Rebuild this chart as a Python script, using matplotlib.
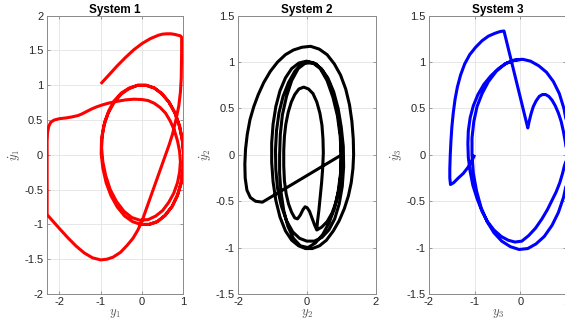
"""
Phase portraits of three systems (y vs. y-dot), MATLAB-style panels.
"""

import matplotlib
matplotlib.use("Agg")
import matplotlib.pyplot as plt

plt.rcParams['font.family'] = ['Liberation Sans', 'DejaVu Sans']
plt.rcParams['mathtext.fontset'] = 'cm'
plt.rcParams['axes.unicode_minus'] = False

# ── Data ───────────────────────────────────────────────────
# System 1 trajectory: (y1, dy1) pairs
sys1 = [
    (-1.0, 1.02), (-0.9, 1.085), (-0.8, 1.15), (-0.7, 1.215), (-0.6, 1.28),
    (-0.5, 1.34), (-0.4, 1.4), (-0.3, 1.455), (-0.2, 1.51), (-0.1, 1.555),
    (0.0, 1.6), (0.1, 1.635), (0.2, 1.67), (0.3, 1.695), (0.4, 1.72),
    (0.5, 1.735), (0.6, 1.74), (0.7, 1.74), (0.8, 1.73), (0.87, 1.72),
    (0.93, 1.71), (0.96, 1.69),
    (0.96, 1.5), (0.955, 1.3), (0.95, 1.1), (0.93, 0.9), (0.89, 0.7),
    (0.82, 0.5), (0.74, 0.3), (0.66, 0.15), (0.57, 0.0), (0.45, -0.2),
    (0.33, -0.4), (0.21, -0.6), (0.1, -0.78), (0.0, -0.95), (-0.1, -1.08),
    (-0.22, -1.2), (-0.36, -1.3), (-0.52, -1.4), (-0.7, -1.47), (-0.85, -1.5),
    (-1.0, -1.51), (-1.2, -1.48), (-1.4, -1.41), (-1.6, -1.31), (-1.8, -1.19),
    (-2.0, -1.06), (-2.15, -0.96), (-2.3, -0.86),
    (-2.3, -0.5), (-2.3, -0.1), (-2.3, 0.2), (-2.29, 0.32), (-2.26, 0.41),
    (-2.21, 0.47), (-2.13, 0.5), (-2.0, 0.52), (-1.85, 0.53), (-1.7, 0.545),
    (-1.55, 0.565), (-1.45, 0.59), (-1.35, 0.62), (-1.22, 0.66), (-1.1, 0.69),
    (-0.95, 0.72), (-0.8, 0.745), (-0.6, 0.77), (-0.4, 0.79), (-0.2, 0.8),
    (0.0, 0.795), (0.15, 0.78), (0.3, 0.74), (0.44, 0.68), (0.57, 0.6),
    (0.68, 0.49), (0.78, 0.36), (0.86, 0.2), (0.91, 0.05), (0.93, -0.1),
    (0.91, -0.25), (0.86, -0.4), (0.77, -0.55), (0.65, -0.68), (0.5, -0.8),
    (0.33, -0.88), (0.15, -0.93), (-0.05, -0.94), (-0.25, -0.9),
    (-0.44, -0.81), (-0.62, -0.67), (-0.77, -0.5), (-0.88, -0.3),
    (-0.95, -0.1), (-0.98, 0.1), (-0.96, 0.3), (-0.9, 0.48), (-0.8, 0.64),
    (-0.67, 0.78), (-0.5, 0.89), (-0.31, 0.96), (-0.1, 1.0), (0.1, 1.0),
    (0.3, 0.96), (0.48, 0.88), (0.65, 0.76), (0.8, 0.6), (0.91, 0.41),
    (0.98, 0.2), (1.01, 0.0), (1.0, -0.2), (0.95, -0.4), (0.86, -0.58),
    (0.73, -0.74), (0.56, -0.87), (0.37, -0.96), (0.17, -1.0), (-0.03, -1.0),
    (-0.23, -0.96), (-0.42, -0.88), (-0.6, -0.75), (-0.75, -0.59),
    (-0.87, -0.4), (-0.95, -0.19), (-0.99, 0.02), (-0.98, 0.23),
    (-0.92, 0.43), (-0.82, 0.6), (-0.68, 0.75), (-0.51, 0.87), (-0.32, 0.95),
    (-0.11, 1.0), (0.1, 1.0), (0.3, 0.96), (0.48, 0.88), (0.65, 0.76),
    (0.8, 0.6), (0.91, 0.41), (0.98, 0.2), (1.01, 0.0), (1.0, -0.2),
    (0.95, -0.4), (0.86, -0.58), (0.73, -0.74), (0.56, -0.87), (0.37, -0.96),
    (0.17, -1.0), (-0.03, -1.0),
]

# System 2 trajectory: (y2, dy2) pairs
sys2 = [
    (1.0, 0.0), (-1.3, -0.51),
    (-1.5, -0.5), (-1.65, -0.46), (-1.75, -0.38), (-1.8, -0.25),
    (-1.81, -0.1), (-1.79, 0.06), (-1.74, 0.22), (-1.66, 0.38), (-1.55, 0.52),
    (-1.42, 0.65), (-1.26, 0.78), (-1.07, 0.9), (-0.86, 1.0), (-0.63, 1.08),
    (-0.4, 1.13), (-0.15, 1.16), (0.1, 1.17), (0.35, 1.14), (0.58, 1.08),
    (0.79, 0.98), (0.97, 0.86), (1.12, 0.71), (1.23, 0.54), (1.3, 0.36),
    (1.34, 0.17), (1.35, 0.0), (1.33, -0.15), (1.28, -0.3), (1.2, -0.44),
    (1.08, -0.58), (0.93, -0.71), (0.76, -0.82), (0.56, -0.92), (0.36, -0.98),
    (0.15, -1.01), (-0.05, -1.01), (-0.25, -0.98),
    (-0.45, -0.92), (-0.63, -0.82), (-0.79, -0.67), (-0.91, -0.49),
    (-0.99, -0.29), (-1.03, -0.08), (-1.03, 0.13), (-0.99, 0.33),
    (-0.91, 0.52), (-0.79, 0.69), (-0.63, 0.83), (-0.45, 0.93), (-0.24, 0.99),
    (-0.02, 1.01), (0.2, 0.99), (0.41, 0.93), (0.6, 0.83), (0.77, 0.68),
    (0.9, 0.5), (0.99, 0.3), (1.05, 0.09), (1.06, -0.13), (1.02, -0.34),
    (0.93, -0.53), (0.8, -0.69), (0.63, -0.81), (0.43, -0.89), (0.21, -0.93),
    (-0.01, -0.93), (-0.22, -0.9),
    (-0.42, -0.83), (-0.6, -0.71), (-0.75, -0.55), (-0.86, -0.36),
    (-0.91, -0.16), (-0.92, 0.05), (-0.89, 0.26), (-0.82, 0.45), (-0.7, 0.63),
    (-0.54, 0.78), (-0.36, 0.9), (-0.16, 0.98), (0.05, 1.0), (0.26, 0.98),
    (0.46, 0.9), (0.64, 0.78), (0.79, 0.62), (0.9, 0.43), (0.97, 0.22),
    (0.99, 0.0), (0.97, -0.2), (0.9, -0.4), (0.79, -0.58), (0.64, -0.73),
    (0.45, -0.86), (0.24, -0.95), (0.02, -1.0), (-0.2, -0.98), (-0.4, -0.9),
    (-0.56, -0.77), (-0.68, -0.6), (-0.76, -0.4), (-0.8, -0.2), (-0.8, 0.0),
    (-0.78, 0.22), (-0.72, 0.43), (-0.6, 0.63), (-0.45, 0.8), (-0.26, 0.93),
    (-0.05, 0.99), (0.17, 0.99), (0.38, 0.93), (0.58, 0.8), (0.75, 0.62),
    (0.88, 0.42), (0.96, 0.2), (0.99, -0.02), (0.98, -0.2), (0.93, -0.36),
    (0.84, -0.51), (0.72, -0.63), (0.58, -0.72), (0.42, -0.78), (0.28, -0.81),
    (0.22, -0.76), (0.15, -0.69), (0.07, -0.61), (0.0, -0.57), (-0.06, -0.56),
    (-0.12, -0.59), (-0.2, -0.65), (-0.28, -0.69), (-0.36, -0.68),
    (-0.45, -0.62), (-0.54, -0.53), (-0.61, -0.42), (-0.66, -0.28),
    (-0.68, -0.12), (-0.68, 0.05), (-0.66, 0.2), (-0.62, 0.33), (-0.55, 0.46),
    (-0.46, 0.57), (-0.36, 0.65), (-0.24, 0.71), (-0.1, 0.73), (0.04, 0.71),
    (0.17, 0.66), (0.28, 0.57), (0.37, 0.45), (0.43, 0.32), (0.46, 0.17),
    (0.47, 0.02), (0.45, -0.15), (0.42, -0.3), (0.38, -0.45), (0.34, -0.6),
    (0.3, -0.72), (0.28, -0.81),
]

# System 3 trajectory: (y3, dy3) pairs
sys3 = [
    (-1.0, 0.0), (-1.06, -0.06), (-1.14, -0.13), (-1.25, -0.2), (-1.36, -0.25),
    (-1.46, -0.3), (-1.53, -0.32), (-1.545, -0.25), (-1.545, -0.15),
    (-1.535, 0.0), (-1.52, 0.15), (-1.5, 0.3), (-1.47, 0.45), (-1.43, 0.6),
    (-1.38, 0.73), (-1.31, 0.86), (-1.22, 0.98), (-1.11, 1.08), (-0.98, 1.16),
    (-0.84, 1.23), (-0.7, 1.28), (-0.56, 1.31), (-0.44, 1.33), (-0.36, 1.335),
    (0.16, 0.29), (0.19, 0.36), (0.23, 0.44), (0.28, 0.52), (0.34, 0.58),
    (0.41, 0.63), (0.48, 0.65), (0.55, 0.65), (0.62, 0.63), (0.69, 0.59),
    (0.76, 0.53), (0.83, 0.45), (0.89, 0.36), (0.94, 0.25), (0.98, 0.14),
    (1.01, 0.03), (1.0, -0.06), (0.96, -0.12),
    (0.92, -0.2), (0.86, -0.3), (0.78, -0.4), (0.69, -0.49), (0.59, -0.59),
    (0.47, -0.69), (0.33, -0.79), (0.18, -0.87), (0.03, -0.93), (-0.12, -0.94),
    (-0.27, -0.92), (-0.42, -0.88), (-0.58, -0.81), (-0.72, -0.72),
    (-0.84, -0.61), (-0.95, -0.47), (-1.04, -0.33), (-1.1, -0.18),
    (-1.14, -0.03), (-1.15, 0.12), (-1.14, 0.26), (-1.1, 0.4), (-1.03, 0.53),
    (-0.93, 0.65), (-0.8, 0.76), (-0.65, 0.85), (-0.48, 0.93), (-0.3, 0.99),
    (-0.12, 1.02), (0.05, 1.03), (0.22, 1.01), (0.4, 0.96), (0.57, 0.89),
    (0.72, 0.79), (0.85, 0.66), (0.95, 0.5), (1.02, 0.32), (1.06, 0.12),
    (1.06, -0.08), (1.02, -0.28), (0.94, -0.46), (0.83, -0.62), (0.69, -0.76),
    (0.52, -0.88), (0.34, -0.96), (0.16, -1.01), (-0.03, -1.02),
    (-0.22, -0.99), (-0.41, -0.93), (-0.58, -0.84), (-0.73, -0.72),
    (-0.86, -0.57), (-0.96, -0.39), (-1.03, -0.2), (-1.06, 0.0),
    (-1.06, 0.18), (-1.02, 0.36), (-0.95, 0.52), (-0.84, 0.66), (-0.7, 0.79),
    (-0.53, 0.9), (-0.34, 0.98), (-0.15, 1.02), (0.03, 1.03),
]

titles = ["System 1", "System 2", "System 3"]
xlabels = [r"$y_1$", r"$y_2$", r"$y_3$"]
ylabels = [r"$\dot{y}_1$", r"$\dot{y}_2$", r"$\dot{y}_3$"]

# ── Figure ─────────────────────────────────────────────────
fig = plt.figure(figsize=(5.65, 3.27), dpi=100)

W, H = 565.0, 327.0
boxes = [(46.7, 183.3), (238.3, 376.0), (429.0, 566.2)]
top_px, bot_px = 15.7, 294.0

series = [(sys1, 'red'), (sys2, 'black'), (sys3, 'blue')]
xlims = [(-2.31, 1.0), (-2, 2), (-2, 1)]
ylims = [(-2, 2), (-1.5, 1.5), (-1.5, 1.5)]
yticks = [[-2, -1.5, -1, -0.5, 0, 0.5, 1, 1.5, 2],
          [-1.5, -1, -0.5, 0, 0.5, 1, 1.5],
          [-1.5, -1, -0.5, 0, 0.5, 1, 1.5]]
xticks = [[-2, -1, 0, 1], [-2, 0, 2], [-2, -1, 0, 1]]

spine_col = '#8a8a8a'
text_col = '#262626'

for i, (l, r) in enumerate(boxes):
    ax = fig.add_axes([l / W, 1 - bot_px / H, (r - l) / W, (bot_px - top_px) / H])
    pts, col = series[i]
    xs = [p[0] for p in pts]
    ys = [p[1] for p in pts]
    ax.plot(xs, ys, color=col, lw=2.2, solid_joinstyle='round',
            solid_capstyle='butt', zorder=3)
    ax.set_xlim(*xlims[i])
    ax.set_ylim(*ylims[i])
    ax.set_xticks(xticks[i])
    ax.set_yticks(yticks[i])
    ax.set_xticklabels([f"{t:g}" for t in xticks[i]])
    ax.set_yticklabels([f"{t:g}" for t in yticks[i]])
    ax.grid(True, color='#e3e3e3', lw=0.6, zorder=0)
    ax.set_axisbelow(True)
    for s in ax.spines.values():
        s.set_color(spine_col)
        s.set_linewidth(0.7)
    ax.tick_params(direction='in', length=2.5, width=0.6, color=spine_col,
                   labelsize=8, labelcolor=text_col, pad=2.5,
                   top=True, right=True)
    ax.set_title(titles[i], fontsize=8.5, fontweight='bold', pad=2,
                 color='black')
    ax.set_xlabel(xlabels[i], fontsize=9, color='#555555', labelpad=0)
    ax.set_ylabel(ylabels[i], fontsize=9, color='#555555', labelpad=1)

plt.savefig("out.png", dpi=100)
